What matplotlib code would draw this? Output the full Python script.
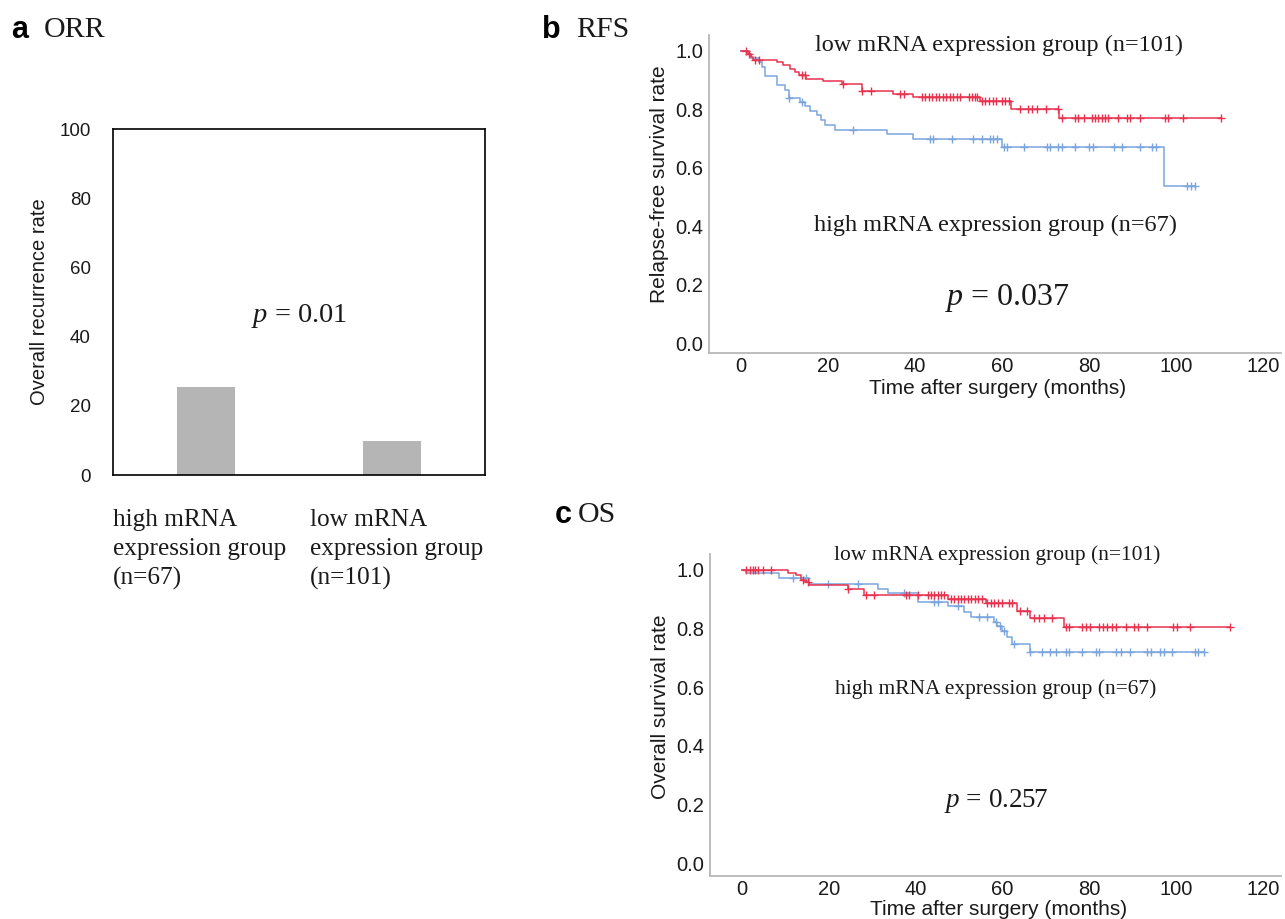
import numpy as np
import matplotlib
matplotlib.use('Agg')
import matplotlib.pyplot as plt

SANS = 'Liberation Sans'
SERIF = 'Liberation Serif'
plt.rcParams['font.family'] = SANS
plt.rcParams['mathtext.fontset'] = 'custom'
plt.rcParams['mathtext.it'] = 'Liberation Serif:italic'
plt.rcParams['mathtext.rm'] = 'Liberation Serif'

# ---------------- data ----------------
# Panel a: overall recurrence rate
orr_categories = ['high mRNA\nexpression group\n(n=67)', 'low mRNA\nexpression group\n(n=101)']
orr_values = [25.4, 9.7]
orr_yticks = [0, 20, 40, 60, 80, 100]

# Panel b: relapse-free survival
rfs_low_event_t = [1.5, 2.3, 2.8, 8.2, 9.7, 11.3, 12.4, 13.2, 14.9, 18.9, 23.1, 27.7,
                   34.8, 39.5, 54.8, 62.1, 73.0]
rfs_low_event_s = [0.990, 0.980, 0.970, 0.960, 0.951, 0.938, 0.927, 0.917, 0.904, 0.895,
                   0.888, 0.863, 0.853, 0.842, 0.828, 0.800, 0.771]
rfs_low_censor_t = [1.1, 1.9, 3.2, 4.1, 14.0, 14.7, 23.5, 27.8, 29.8, 36.6, 37.5, 41.5,
                    42.3, 43.1, 43.9, 44.7, 45.5, 46.3, 47.1, 47.9, 48.7, 49.5, 50.4,
                    52.3, 53.0, 53.7, 54.2, 55.3, 56.1, 57.0, 57.8, 58.6, 59.9, 60.7,
                    61.5, 64.1, 66.0, 66.9, 67.9, 70.0, 72.9, 73.7, 76.8, 77.5, 78.7,
                    80.6, 81.4, 82.1, 82.9, 83.7, 84.4, 86.7, 88.7, 89.4, 91.7, 97.5,
                    98.2, 101.5, 110.3]

rfs_high_event_t = [1.7, 2.3, 4.0, 4.7, 5.5, 8.2, 10.1, 10.9, 13.6, 14.7, 15.9, 17.4,
                    18.4, 19.3, 21.6, 33.5, 39.5, 59.9, 97.3]
rfs_high_event_s = [0.989, 0.975, 0.960, 0.945, 0.913, 0.882, 0.867, 0.838, 0.825, 0.810,
                    0.794, 0.779, 0.764, 0.747, 0.730, 0.714, 0.699, 0.672, 0.538]
rfs_high_censor_t = [11.0, 13.9, 25.6, 43.4, 44.2, 48.4, 53.4, 55.3, 57.2, 58.0, 58.8,
                     60.4, 61.1, 65.0, 70.2, 71.0, 72.9, 73.7, 76.8, 79.9, 80.9, 85.7,
                     87.6, 91.6, 94.4, 95.4, 102.5, 103.4, 104.4]

# Panel c: overall survival
os_low_event_t = [10.5, 12.4, 13.6, 14.5, 15.5, 24.3, 28.1, 47.3, 56.1, 63.3, 66.4, 74.1]
os_low_event_s = [0.990, 0.981, 0.966, 0.958, 0.946, 0.935, 0.915, 0.900, 0.885, 0.860,
                  0.834, 0.805]
os_low_censor_t = [0.9, 1.7, 2.5, 3.0, 3.6, 4.8, 6.7, 14.0, 15.2, 24.3, 28.5, 30.4,
                   37.7, 38.5, 40.4, 42.7, 43.4, 44.2, 45.0, 45.7, 46.5, 48.0, 48.8,
                   49.6, 50.4, 51.2, 52.0, 52.8, 53.6, 54.4, 55.2, 56.5, 57.3, 58.1,
                   58.9, 59.9, 61.4, 62.2, 64.1, 65.7, 67.2, 68.3, 69.5, 71.4, 74.5,
                   75.2, 78.3, 79.3, 80.2, 82.1, 83.1, 84.1, 85.2, 86.2, 88.3, 90.2,
                   91.1, 93.3, 99.2, 100.2, 103.2, 112.3]

os_high_event_t = [0.8, 8.6, 15.3, 31.2, 33.5, 40.4, 47.3, 51.1, 52.6, 58.0, 58.8, 59.9,
                   61.1, 62.2, 66.4]
os_high_event_s = [0.988, 0.972, 0.952, 0.935, 0.920, 0.890, 0.877, 0.857, 0.840, 0.823,
                   0.808, 0.792, 0.769, 0.746, 0.721]
os_high_censor_t = [11.6, 14.6, 19.7, 26.6, 37.3, 44.2, 45.1, 49.6, 54.6, 56.5, 58.4,
                    59.5, 60.3, 62.6, 66.4, 69.1, 71.0, 72.2, 74.5, 75.2, 78.3, 81.4,
                    82.1, 86.2, 87.3, 89.3, 93.3, 94.2, 96.2, 97.1, 99.0, 104.4, 105.1,
                    106.3]

km_xticks = [0, 20, 40, 60, 80, 100, 120]
km_yticks = [0.0, 0.2, 0.4, 0.6, 0.8, 1.0]

RED = '#e8334f'
BLUE = '#7aa5dd'
BAR = '#b5b5b5'
SPINE = '#b8b8b8'

W, H = 1285, 919
fig = plt.figure(figsize=(W / 100, H / 100), dpi=100)


def frect(l, t, r, b):
    return [l / W, 1 - b / H, (r - l) / W, (b - t) / H]


def ftext(x, y, s, **kw):
    fig.text(x / W, 1 - y / H, s, **kw)


# ---------------- panel a ----------------
axa = fig.add_axes(frect(113, 129, 485, 475))
axa.bar([0, 1], orr_values, width=0.31, color=BAR)
axa.set_xlim(-0.5, 1.5)
axa.set_ylim(0, 100)
axa.set_yticks(orr_yticks)
axa.set_xticks([])
axa.tick_params(axis='y', length=0, pad=16, labelsize=13.5, labelcolor='#1a1a1a')
for sp in axa.spines.values():
    sp.set_color('black')
    sp.set_linewidth(1.2)
axa.set_ylabel('Overall recurrence rate', fontsize=14.5, color='#1a1a1a')
axa.yaxis.set_label_coords(-0.172, 0.5)
axa.text(0.5, 0.46, r'$p$ = 0.01', transform=axa.transAxes, ha='center', va='center',
         fontsize=20.5, family=SERIF, color='#1a1a1a')
for xf, lab in zip([0.0, 0.53], orr_categories):
    axa.text(xf, -0.099, lab, transform=axa.transAxes, ha='left', va='top',
             fontsize=18.2, family=SERIF, color='#1a1a1a', linespacing=1.38)


# ---------------- KM helper ----------------
def km_plot(ax, ev_t, ev_s, cens_t, color):
    ev_t = np.asarray(ev_t)
    ev_s = np.asarray(ev_s)
    cens_t = np.asarray(cens_t)
    t_end = max(cens_t.max(), ev_t.max())
    tt = np.concatenate([[0.0], ev_t, [t_end]])
    ss = np.concatenate([[1.0], ev_s, [ev_s[-1]]])
    ax.step(tt, ss, where='post', color=color, lw=1.1)
    levels = np.concatenate([[1.0], ev_s])
    cy = levels[np.searchsorted(ev_t, cens_t, side='right')]
    ax.plot(cens_t, cy, ls='none', marker='+', ms=5.5, mew=1.0, color=color)


def km_axes(ax, ylim, ylabel, ylabel_y):
    ax.set_xlim(-7.4, 124.1)
    ax.set_ylim(*ylim)
    ax.set_xticks(km_xticks)
    ax.set_yticks(km_yticks)
    ax.set_yticklabels([f'{v:.1f}' for v in km_yticks])
    ax.tick_params(length=0, labelsize=14.5, labelcolor='#1a1a1a')
    ax.tick_params(axis='x', pad=3)
    ax.tick_params(axis='y', pad=4)
    for s in ['top', 'right']:
        ax.spines[s].set_visible(False)
    for s in ['left', 'bottom']:
        ax.spines[s].set_color(SPINE)
        ax.spines[s].set_linewidth(1.3)
    ax.set_xlabel('Time after surgery (months)', fontsize=15, color='#1a1a1a')
    ax.set_ylabel(ylabel, fontsize=15, color='#1a1a1a')
    ax.yaxis.set_label_coords(-0.07, ylabel_y)


# ---------------- panel b ----------------
axb = fig.add_axes(frect(709, 35, 1281, 353))
km_plot(axb, rfs_high_event_t, rfs_high_event_s, rfs_high_censor_t, BLUE)
km_plot(axb, rfs_low_event_t, rfs_low_event_s, rfs_low_censor_t, RED)
km_axes(axb, (-0.034, 1.054), 'Relapse-free survival rate', 0.53)
axb.xaxis.set_label_coords(0.505, -0.083)

# ---------------- panel c ----------------
axc = fig.add_axes(frect(710, 554, 1281, 876))
km_plot(axc, os_high_event_t, os_high_event_s, os_high_censor_t, BLUE)
km_plot(axc, os_low_event_t, os_low_event_s, os_low_censor_t, RED)
km_axes(axc, (-0.043, 1.053), 'Overall survival rate', 0.525)
axc.xaxis.set_label_coords(0.505, -0.074)

# ---------------- annotations ----------------
tc = '#1a1a1a'
ftext(999, 45, 'low mRNA expression group (n=101)', ha='center', va='center',
      fontsize=17.5, family=SERIF, color=tc)
ftext(996, 225, 'high mRNA expression group (n=67)', ha='center', va='center',
      fontsize=17.5, family=SERIF, color=tc)
ftext(1008, 298, r'$p$ = 0.037', ha='center', va='center', fontsize=23,
      family=SERIF, color=tc)
ftext(997, 555, 'low mRNA expression group (n=101)', ha='center', va='center',
      fontsize=15.5, family=SERIF, color=tc)
ftext(996, 689, 'high mRNA expression group (n=67)', ha='center', va='center',
      fontsize=15.5, family=SERIF, color=tc)
ftext(996, 801, r'$p$ = 0.257', ha='center', va='center', fontsize=19.5,
      family=SERIF, color=tc)

# panel titles
ftext(11, 30, 'a', ha='left', va='center', fontsize=22, weight='bold', family=SANS, color='black')
ftext(44, 30, 'ORR', ha='left', va='center', fontsize=21.5, family=SERIF, color=tc)
ftext(542, 30, 'b', ha='left', va='center', fontsize=22, weight='bold', family=SANS, color='black')
ftext(576, 30, 'RFS', ha='left', va='center', fontsize=21.5, family=SERIF, color=tc)
ftext(555, 515, 'c', ha='left', va='center', fontsize=22, weight='bold', family=SANS, color='black')
ftext(578, 515, 'OS', ha='left', va='center', fontsize=21.5, family=SERIF, color=tc)

fig.savefig('out.png', dpi=100)
